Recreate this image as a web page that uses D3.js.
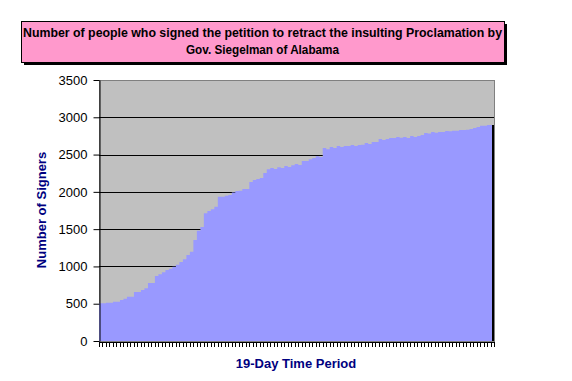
<!DOCTYPE html>
<html>
<head>
<meta charset="utf-8">
<script src="https://cdn.jsdelivr.net/npm/d3@7"></script>
<style>
  body { margin: 0; background: #fff; }
  svg { font-family: "Liberation Sans", Arial, sans-serif; }
</style>
</head>
<body>
<script>
// signers per reading over the 19 days
const signers = [
  506, 506, 514, 514, 527, 527, 550, 567, 594, 594,
  657, 657, 684, 706, 778, 778, 872, 894, 921, 952,
  970, 997, 1023, 1059, 1095, 1153, 1198, 1354, 1479, 1530,
  1712, 1743, 1766, 1801, 1935, 1935, 1949, 1958, 1990, 2010,
  2016, 2038, 2038, 2132, 2159, 2172, 2186, 2253, 2302, 2320,
  2306, 2329, 2320, 2347, 2333, 2356, 2374, 2360, 2414, 2414,
  2436, 2454, 2477, 2467, 2588, 2570, 2601, 2588, 2615, 2601,
  2615, 2615, 2628, 2615, 2628, 2632, 2655, 2641, 2668, 2668,
  2709, 2695, 2709, 2722, 2722, 2736, 2727, 2736, 2722, 2749,
  2736, 2749, 2763, 2790, 2781, 2803, 2794, 2803, 2803, 2816,
  2812, 2821, 2821, 2830, 2830, 2834, 2843, 2856, 2870, 2887,
  2887, 2897, 2897
];
const yTicks = [0, 500, 1000, 1500, 2000, 2500, 3000, 3500];
const titleLines = [
  "Number of people who signed the petition to retract the insulting Proclamation by",
  "Gov. Siegelman of Alabama"
];
const xTitle = "19-Day Time Period";
const yTitle = "Number of Signers";

const W = 572, H = 381;
const plot = { left: 99, right: 494, top: 80, bottom: 341 };

const svg = d3.select("body").append("svg")
  .attr("width", W)
  .attr("height", H);

const N = signers.length;
const x = d3.scaleLinear().domain([0, N]).range([plot.left, plot.right]);
const y = d3.scaleLinear().domain([0, 3500]).range([plot.bottom, plot.top]);

// plot background
svg.append("rect")
  .attr("x", plot.left).attr("y", plot.top + 0.5)
  .attr("width", plot.right - plot.left).attr("height", plot.bottom - plot.top)
  .attr("fill", "#c0c0c0")
  .attr("stroke", "#808080")
  .attr("shape-rendering", "crispEdges");

// gridlines
svg.append("g")
  .selectAll("line")
  .data(yTicks.filter(d => d > 0 && d < 3500))
  .join("line")
  .attr("x1", plot.left).attr("x2", plot.right)
  .attr("y1", d => Math.round(y(d)) + 0.5).attr("y2", d => Math.round(y(d)) + 0.5)
  .attr("stroke", "#000");

// area as steps
const pts = signers.map((v, i) => ({ i, v }));
pts.push({ i: N, v: signers[N - 1] });
const area = d3.area()
  .curve(d3.curveStepAfter)
  .x(d => x(d.i))
  .y0(y(0))
  .y1(d => y(d.v));

svg.append("path")
  .datum(pts)
  .attr("fill", "#9999ff")
  .attr("d", area);

// dark edge at the end of the series
svg.append("line")
  .attr("x1", plot.right - 1).attr("x2", plot.right - 1)
  .attr("y1", y(signers[N - 1])).attr("y2", plot.bottom)
  .attr("stroke", "#000")
  .attr("stroke-width", 2);

// axes
const yAxis = svg.append("g")
  .attr("transform", `translate(${plot.left + 0.5},0)`)
  .call(d3.axisLeft(y).tickValues(yTicks).tickFormat(d3.format("d"))
    .tickSize(6).tickPadding(6).tickSizeOuter(0));
yAxis.select(".domain").attr("stroke", "#000");
yAxis.selectAll("text")
  .attr("font-size", 13)
  .attr("font-family", "\"Liberation Sans\", Arial, sans-serif")
  .attr("fill", "#000");

const xAxis = svg.append("g")
  .attr("transform", `translate(0,${plot.bottom + 0.5})`)
  .call(d3.axisBottom(x).tickValues(d3.range(0, N + 1)).tickSize(5).tickFormat("").tickSizeOuter(0));
xAxis.select(".domain").attr("stroke", "#000");
xAxis.selectAll(".tick line").attr("stroke", "#000");
xAxis.attr("shape-rendering", "crispEdges");

// axis titles
svg.append("text")
  .attr("x", 296).attr("y", 368)
  .attr("text-anchor", "middle")
  .attr("font-size", 13).attr("font-weight", "bold")
  .attr("fill", "#000080")
  .text(xTitle);

svg.append("text")
  .attr("transform", "translate(46,210) rotate(-90)")
  .attr("text-anchor", "middle")
  .attr("font-size", 13).attr("font-weight", "bold")
  .attr("fill", "#000080")
  .text(yTitle);

// title box with shadow
const tb = { x: 21, y: 21, w: 483, h: 41 };
svg.append("rect")
  .attr("x", tb.x + 3).attr("y", tb.y + 3)
  .attr("width", tb.w).attr("height", tb.h)
  .attr("fill", "#000");
svg.append("rect")
  .attr("x", tb.x + 0.5).attr("y", tb.y + 0.5)
  .attr("width", tb.w).attr("height", tb.h)
  .attr("fill", "#ff99cc")
  .attr("stroke", "#000");

svg.append("text")
  .attr("x", tb.x + tb.w / 2).attr("y", 37)
  .attr("text-anchor", "middle")
  .attr("font-size", 13).attr("font-weight", "bold")
  .attr("textLength", 479).attr("lengthAdjust", "spacingAndGlyphs")
  .text(titleLines[0]);
svg.append("text")
  .attr("x", tb.x + tb.w / 2).attr("y", 54)
  .attr("text-anchor", "middle")
  .attr("font-size", 13).attr("font-weight", "bold")
  .attr("textLength", 153).attr("lengthAdjust", "spacingAndGlyphs")
  .text(titleLines[1]);
</script>
</body>
</html>
